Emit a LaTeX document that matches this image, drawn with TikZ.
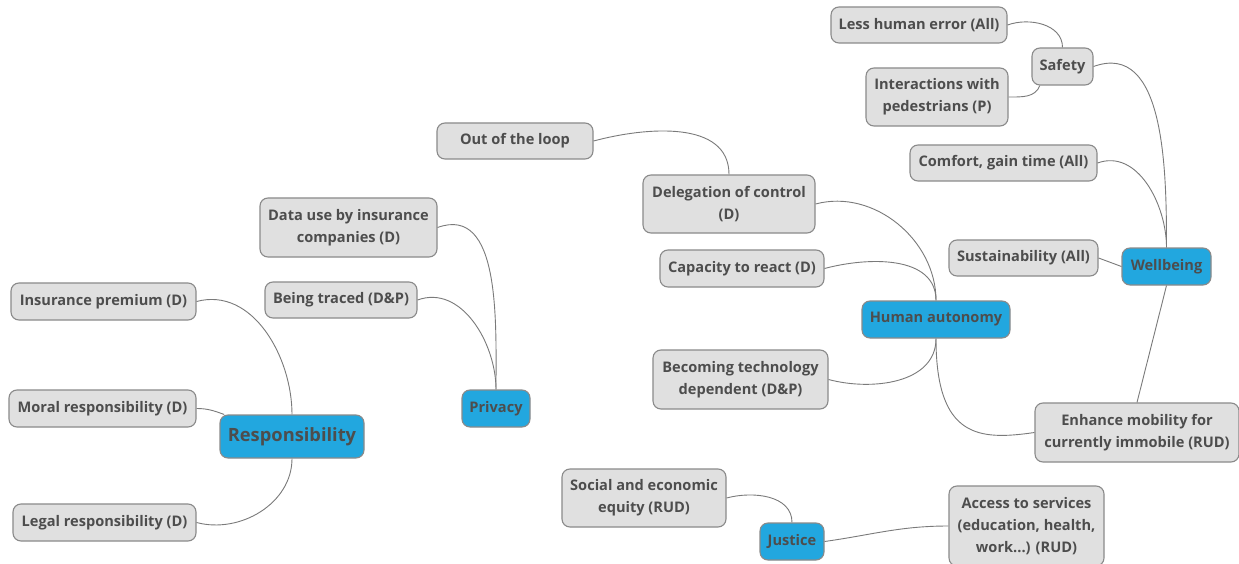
\documentclass[tikz,border=0pt]{standalone}
\usepackage{fontspec}
\setmainfont{Open Sans}
\definecolor{leafgray}{HTML}{E0E0E0}
\definecolor{bordergray}{HTML}{8A8A8A}
\definecolor{mainblue}{HTML}{22A7DF}
\definecolor{textgray}{HTML}{4D4D4D}
\definecolor{linkgray}{HTML}{7A7A7A}
\tikzset{
  box/.style={draw=bordergray, line width=1.1pt, rounded corners=8pt, align=center,
    inner sep=0pt, text=textgray, font=\bfseries\fontsize{14.6}{22}\selectfont},
  leaf/.style={box, fill=leafgray},
  topic/.style={box, fill=mainblue},
  link/.style={draw=linkgray, line width=0.9pt}
}
\begin{document}
\begin{tikzpicture}[x=1pt,y=-1pt]
\useasboundingbox (0,0) rectangle (1239,564);
\fill[white] (0,0) rectangle (1239,564);
% Wellbeing cluster
\node[leaf, minimum width=176, minimum height=36] (lhe) at (919,25) {Less human error (All)};
\node[leaf, minimum width=61, minimum height=37] (safety) at (1062.5,66.5) {Safety};
\node[leaf, minimum width=142, minimum height=58] (inter) at (937,97) {Interactions with\\pedestrians (P)};
\node[leaf, minimum width=187, minimum height=36] (comfort) at (1003.5,163) {Comfort, gain time (All)};
\node[leaf, minimum width=149, minimum height=36] (sust) at (1023.5,258) {Sustainability (All)};
\node[topic, minimum width=89, minimum height=37] (well) at (1166.5,266.5) {Wellbeing};
\node[leaf, minimum width=204, minimum height=59] (enh) at (1137,432.5) {Enhance mobility for\\currently immobile (RUD)};
% Human autonomy cluster
\node[leaf, minimum width=156, minimum height=36] (loop) at (515,141) {Out of the loop};
\node[leaf, minimum width=172, minimum height=58] (deleg) at (729,204) {Delegation of control\\(D)};
\node[leaf, minimum width=164, minimum height=37] (cap) at (742,268.5) {Capacity to react (D)};
\node[topic, minimum width=148, minimum height=37] (ha) at (936,319.5) {Human autonomy};
\node[leaf, minimum width=175, minimum height=59] (becoming) at (740.5,379.5) {Becoming technology\\dependent (D\&P)};
% Privacy cluster
\node[leaf, minimum width=177, minimum height=59] (data) at (348.5,227.5) {Data use by insurance\\companies (D)};
\node[leaf, minimum width=152, minimum height=36] (traced) at (341,300) {Being traced (D\&P)};
\node[topic, minimum width=68, minimum height=37] (privacy) at (496,408.5) {Privacy};
% Responsibility cluster
\node[leaf, minimum width=185, minimum height=37] (prem) at (103.5,301.5) {Insurance premium (D)};
\node[leaf, minimum width=187, minimum height=37] (moral) at (102.5,408.5) {Moral responsibility (D)};
\node[topic, minimum width=144, minimum height=43, font=\bfseries\fontsize{18.3}{22}\selectfont] (resp) at (292,436.5) {Responsibility};
\node[leaf, minimum width=183, minimum height=37] (legal) at (104.5,522.5) {Legal responsibility (D)};
% Justice cluster
\node[leaf, minimum width=164, minimum height=58] (social) at (644,498) {Social and economic\\equity (RUD)};
\node[topic, minimum width=64, minimum height=37] (justice) at (792,541.5) {Justice};
\node[leaf, minimum width=155, minimum height=80] (access) at (1026.5,526) {Access to services\\(education, health,\\work...) (RUD)};
% connectors
\path[link] (lhe.east) to[out=20,in=90] (safety.north);
\path[link] (inter.east) to[out=0,in=-110] (safety.220);
\path[link] (safety.east) to[out=20,in=90] (well.north);
\path[link] (comfort.east) to[out=20,in=90] (well.north);
\path[link] (sust.east) -- (well.west);
\path[link] (well.south) -- (enh.north);
\path[link] (ha.south) .. controls +(0,100) and +(-55,8) .. (enh.west);
\path[link] (loop.east) to[out=15,in=90] (deleg.north);
\path[link] (deleg.east) to[out=15,in=90] (ha.north);
\path[link] (cap.east) to[out=15,in=90] (ha.north);
\path[link] (becoming.east) to[out=-15,in=-90] (ha.south);
\path[link] (data.east) to[out=20,in=90] (privacy.north);
\path[link] (traced.east) to[out=20,in=90] (privacy.north);
\path[link] (prem.east) to[out=15,in=90] (resp.north);
\path[link] (moral.east) to[out=0,in=160] (resp.162);
\path[link] (legal.east) to[out=-15,in=-90] (resp.south);
\path[link] (social.east) to[out=15,in=90] (justice.north);
\path[link] (justice.east) to[out=8,in=180] (access.west);
\end{tikzpicture}
\end{document}
